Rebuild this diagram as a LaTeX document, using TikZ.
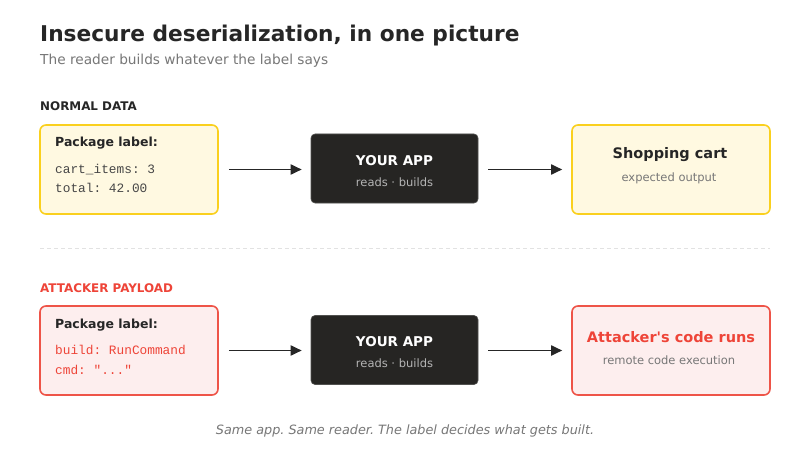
\documentclass[tikz,border=0pt]{standalone}
\usepackage{fontspec}
\setmainfont{DejaVu Sans}[Ligatures=TeXOff]
\newfontfamily\monof{Liberation Mono}[Ligatures=TeXOff]
\usetikzlibrary{arrows.meta}
\definecolor{ylwstroke}{HTML}{FAD01E}
\definecolor{ylwfill}{HTML}{FFF9E1}
\definecolor{redstroke}{HTML}{EE5448}
\definecolor{redfill}{HTML}{FDEEEE}
\definecolor{redtext}{HTML}{EE4438}
\definecolor{darkbox}{HTML}{262523}
\definecolor{inktext}{HTML}{262626}
\definecolor{graytext}{HTML}{777777}
\definecolor{subgray}{HTML}{B4B4B4}
\definecolor{sepgray}{HTML}{E2E2E2}
\tikzset{
  okbox/.style={draw=ylwstroke, fill=ylwfill, line width=1.6pt, rounded corners=6pt, minimum width=178pt, minimum height=89pt, inner sep=0pt},
  badbox/.style={draw=redstroke, fill=redfill, line width=1.6pt, rounded corners=6pt, minimum width=178pt, minimum height=89pt, inner sep=0pt},
  appbox/.style={fill=darkbox, draw=darkbox!80!white, line width=0.6pt, rounded corners=4pt, minimum width=167pt, minimum height=69pt, inner sep=0pt},
  flow/.style={draw=inktext, line width=1.8pt, -{Triangle[length=11pt,width=10pt]}, shorten <=10pt, shorten >=9pt},
  txt/.style={inner sep=0pt, anchor=base west},
  ctxt/.style={inner sep=0pt, anchor=base},
}
\frenchspacing
\begin{document}
\begin{tikzpicture}[x=1pt,y=-1pt]
\useasboundingbox (0,0) rectangle (810,457);
\fill[white] (0,0) rectangle (810,457);
% titles
\node[txt, font=\fontsize{21.7}{25}\selectfont\bfseries, text=inktext] (title) at (40,42) {Insecure deserialization, in one picture};
\node[txt, font=\fontsize{13.7}{16}\selectfont, text=graytext] (subtitle) at (40,65) {The reader builds whatever the label says};
\node[txt, font=\fontsize{11.9}{14}\selectfont\bfseries, text=inktext] (normal) at (40,111) {NORMAL DATA};
% normal row
\node[okbox] (inA) at (129,169.5) {};
\node[appbox] (appA) at (394.5,168.5) {};
\node[okbox, minimum width=198pt] (outA) at (671,169.5) {};
\node[txt, font=\fontsize{12.5}{15}\selectfont\bfseries, text=inktext] (pkgA) at (55,147) {Package label:};
\node[txt, font=\monof\fontsize{12.8}{15}\selectfont, text=inktext!85!white] (lineA1) at (55,173) {cart\_items: 3};
\node[txt, font=\monof\fontsize{12.8}{15}\selectfont, text=inktext!85!white] (lineA2) at (55,193) {total: 42.00};
\node[ctxt, font=\fontsize{13.5}{16}\selectfont\bfseries, text=white] (appAt) at (394.5,165) {YOUR APP};
\node[ctxt, font=\fontsize{11.5}{14}\selectfont, text=subgray] (appAs) at (394.5,186) {reads · builds};
\node[ctxt, font=\fontsize{14.5}{17}\selectfont\bfseries, text=inktext] (outAt) at (670,159) {Shopping cart};
\node[ctxt, font=\fontsize{11.5}{14}\selectfont, text=graytext] (outAs) at (669,181) {expected output};
\draw[flow] (inA) -- (appA.west |- inA);
\draw[flow] (appA.east |- inA) -- (outA);
% separator
\draw[sepgray, line width=0.8pt, dash pattern=on 4pt off 3pt] (40,248) coordinate (sepL) -- (770,248) coordinate (sepR);
% attacker row
\node[txt, font=\fontsize{11.9}{14}\selectfont\bfseries, text=redtext] (attack) at (40,292) {ATTACKER PAYLOAD};
\node[badbox] (inB) at (129,350.5) {};
\node[appbox] (appB) at (394.5,350) {};
\node[badbox, minimum width=198pt] (outB) at (671,350.5) {};
\node[txt, font=\fontsize{12.5}{15}\selectfont\bfseries, text=inktext] (pkgB) at (55,328) {Package label:};
\node[txt, font=\monof\fontsize{12.8}{15}\selectfont, text=redtext] (lineB1) at (55,354) {build: RunCommand};
\node[txt, font=\monof\fontsize{12.8}{15}\selectfont, text=redtext] (lineB2) at (55,374) {cmd: "..."};
\node[ctxt, font=\fontsize{13.5}{16}\selectfont\bfseries, text=white] (appBt) at (394.5,346.5) {YOUR APP};
\node[ctxt, font=\fontsize{11.5}{14}\selectfont, text=subgray] (appBs) at (394.5,367.5) {reads · builds};
\node[ctxt, font=\fontsize{14.5}{17}\selectfont\bfseries, text=redtext] (outBt) at (671,342) {Attacker's code runs};
\node[ctxt, font=\fontsize{11.5}{14}\selectfont, text=graytext] (outBs) at (669,364.5) {remote code execution};
\draw[flow] (inB) -- (appB.west |- inB);
\draw[flow] (appB.east |- inB) -- (outB);
% footer
\node[ctxt, font=\fontsize{12.8}{15}\selectfont\itshape, text=graytext] (footer) at (405,434) {Same app. Same reader. The label decides what gets built.};
\end{tikzpicture}
\end{document}
